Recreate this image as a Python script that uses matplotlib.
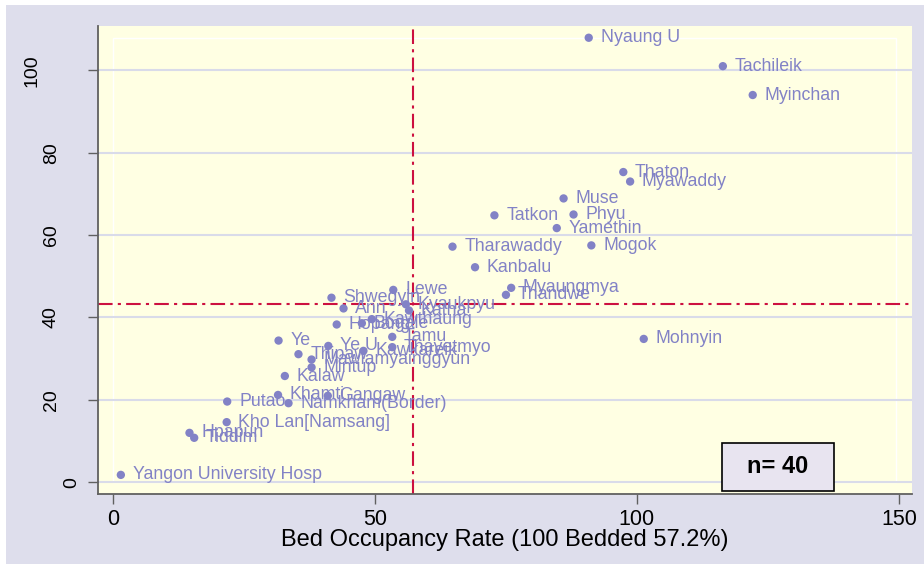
import matplotlib
matplotlib.use("Agg")
import matplotlib.pyplot as plt
from matplotlib.patches import Rectangle
from matplotlib import transforms

# hospitals and their values
hospitals = ["Nyaung U", "Tachileik", "Myinchan", "Thaton", "Myawaddy", "Muse",
             "Tatkon", "Phyu", "Yamethin", "Mogok", "Tharawaddy", "Kanbalu",
             "Myaungmya", "Thandwe", "Mohnyin", "Lewe", "Shwegyin", "Kyaukpyu",
             "Katha", "Ann", "Kawthaung", "Hopang", "Bogale", "Tamu", "Ye", "Ye U",
             "Thayetmyo", "Thipaw", "Kawkareik", "Mawlamyainggyun", "Mintup",
             "Kalaw", "Khamti", "Gangaw", "Putao", "Namkham(Border)",
             "Kho Lan[Namsang]", "Hpapun", "Tiddim", "Yangon University Hosp"]
bed_occupancy = [90.8, 116.4, 122.1, 97.4, 98.7, 86.0,
                 72.8, 87.9, 84.7, 91.3, 64.8, 69.1,
                 76.0, 75.0, 101.3, 53.5, 41.7, 55.9,
                 56.5, 44.0, 49.4, 42.7, 47.5, 53.3, 31.6, 41.1,
                 53.3, 35.4, 47.8, 37.9, 37.9,
                 32.8, 31.5, 41.0, 21.8, 33.5,
                 21.7, 14.6, 15.5, 1.5]
y_values = [107.9, 101.0, 94.0, 75.3, 73.0, 68.9,
            64.8, 65.0, 61.7, 57.5, 57.2, 52.2,
            47.2, 45.5, 34.8, 46.7, 44.8, 43.2,
            41.7, 42.2, 39.6, 38.3, 38.6, 35.3, 34.4, 33.1,
            32.8, 31.1, 31.9, 29.8, 27.9,
            25.8, 21.2, 21.0, 19.6, 19.2,
            14.6, 12.0, 10.8, 1.8]

x_ref = 57.2   # 100 bedded rate
y_ref = 43.2
x_ticks = [0, 50, 100, 150]
y_ticks = [0, 20, 40, 60, 80, 100]
n_text = "n= 40"

outer_bg = "#dedeec"
plot_bg = "#ffffe3"
grid_col = "#d9dbe9"
dot_col = "#8282c6"
ref_col = "#cc1040"
axis_col = "#606060"

plt.rcParams["font.family"] = ["Liberation Sans", "DejaVu Sans"]

fig = plt.figure(figsize=(9.24, 5.64), dpi=100)
fig.patch.set_facecolor("white")
# lavender graph region (thin white strip left and top as in the screenshot)
fig.patches.append(Rectangle((6 / 924, 0), 1, 1 - 5 / 564, transform=fig.transFigure,
                             facecolor=outer_bg, edgecolor="none", zorder=-10))

ax = fig.add_axes([98 / 924, 1 - 494 / 564, 814 / 924, 468 / 564])
ax.set_facecolor(plot_bg)
ax.set_xlim(-2.86, 152.5)
ax.set_ylim(-2.84, 110.75)

for s in ["top", "right"]:
    ax.spines[s].set_visible(False)
for s in ["left", "bottom"]:
    ax.spines[s].set_color(axis_col)
    ax.spines[s].set_linewidth(1.3)

# inner plot region outline
ax.add_patch(Rectangle((0.0184, 0.0256), 0.9616, 0.9484, transform=ax.transAxes,
                       facecolor="none", edgecolor="white", lw=1.0, zorder=0.5))

ax.set_yticks(y_ticks)
ax.yaxis.grid(True, color=grid_col, lw=1.5, zorder=1)
ax.set_axisbelow(True)
ax.tick_params(axis="both", direction="out", length=7, width=1.0, color=axis_col)
ax.set_xticks(x_ticks)
ax.set_xticklabels([str(v) for v in x_ticks], fontsize=15.5)
ax.tick_params(axis="x", pad=4)
ax.set_yticklabels([])

# y labels: rotated, shifted further out the more digits they have
ytrans = transforms.blended_transform_factory(ax.transAxes, ax.transData)
for v in y_ticks:
    n = len(str(v))
    ax.annotate(str(v), xy=(0, v), xycoords=ytrans,
                xytext=(-(18 + 20 * (n - 1)) * 0.72, 0), textcoords="offset points",
                rotation=90, ha="right", va="center", fontsize=14,
                annotation_clip=False)

ax.set_xlabel("Bed Occupancy Rate (100 Bedded 57.2%)", fontsize=17, labelpad=-1)

ax.axvline(x_ref, color=ref_col, lw=1.5, ls=(0, (7, 2.5, 1.5, 2.5)), zorder=2)
ax.axhline(y_ref, color=ref_col, lw=1.5, ls=(0, (7, 2.5, 1.5, 2.5)), zorder=2)

ax.scatter(bed_occupancy, y_values, s=36, color=dot_col, edgecolors="none", zorder=3)
for name, x, y in zip(hospitals, bed_occupancy, y_values):
    ax.annotate(name, xy=(x, y), xytext=(8.5, 0), textcoords="offset points",
                ha="left", va="center", fontsize=12.8, color=dot_col, zorder=4)

# n box
ax.add_patch(Rectangle((0.7666, 0.0064), 0.1376, 0.1026, transform=ax.transAxes,
                       facecolor="#e8e4f0", edgecolor="black", lw=1.2, zorder=5))
ax.text(0.7666 + 0.1376 / 2, 0.0064 + 0.1026 / 2, n_text, transform=ax.transAxes,
        ha="center", va="center", fontsize=17, fontweight="bold", zorder=6)

fig.savefig("out.png", dpi=100, facecolor=fig.get_facecolor())
